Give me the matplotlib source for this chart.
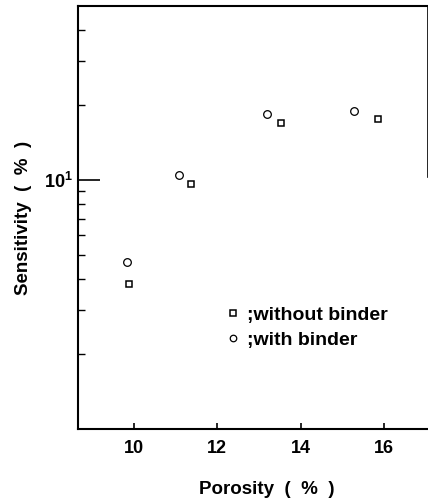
import numpy as np
import matplotlib
matplotlib.use('Agg')
import matplotlib.pyplot as plt
from matplotlib.ticker import FixedLocator, NullFormatter

plt.rcParams['font.family'] = ['Liberation Sans', 'DejaVu Sans']
plt.rcParams['font.weight'] = 'bold'
plt.rcParams['axes.labelweight'] = 'bold'
plt.rcParams['mathtext.fontset'] = 'custom'
plt.rcParams['mathtext.rm'] = 'Liberation Sans:bold'

# porosity (%) and sensitivity (%)
por_without = [9.88, 11.37, 13.52, 15.84]
sens_without = [3.82, 9.63, 16.9, 17.6]
por_with = [9.83, 11.08, 13.19, 15.27]
sens_with = [4.69, 10.47, 18.4, 18.9]

xticks = [10, 12, 14, 16]

fig = plt.figure(figsize=(4.28, 5.04), dpi=100)
ax = fig.add_axes([0.182, 0.149, 0.818, 0.839])

ax.plot(por_without, sens_without, 's', ms=5, mfc='white', mec='black', mew=1.1,
        linestyle='none', label=';without binder')
ax.plot(por_with, sens_with, 'o', ms=5.5, mfc='white', mec='black', mew=0.9,
        linestyle='none', label=';with binder')

ax.set_yscale('log')
ax.set_xlim(8.66, 17.05)
ax.set_ylim(1, 50)

ax.set_xticks(xticks)
ax.set_xticklabels([str(t) for t in xticks], fontsize=13)
ax.tick_params(axis='x', direction='in', length=4, width=1.2, pad=8)

ax.yaxis.set_major_locator(FixedLocator([10]))
ax.set_yticklabels([r'$\mathregular{10^1}$'], fontsize=13)
ax.yaxis.set_minor_locator(FixedLocator([2, 3, 4, 5, 6, 7, 8, 9, 20, 30, 40]))
ax.yaxis.set_minor_formatter(NullFormatter())
ax.tick_params(axis='y', which='major', direction='in', length=16, width=1.2, pad=4)
ax.tick_params(axis='y', which='minor', direction='in', length=5, width=1.0)

for s in ['left', 'bottom', 'top']:
    ax.spines[s].set_linewidth(1.5)
ax.spines['right'].set_linewidth(1.2)
ax.spines['right'].set_bounds(10.3, 50)

ax.set_xlabel('Porosity  (  %  )', fontsize=13.5)
ax.xaxis.set_label_coords(0.54, -0.123)
ax.set_ylabel('Sensitivity  (  %  )', fontsize=13.5)
ax.yaxis.set_label_coords(-0.132, 0.5)

ax.legend(loc='upper left', bbox_to_anchor=(0.427, 0.29), frameon=False,
          fontsize=14, handlelength=0.6, handletextpad=0.4, labelspacing=0.38,
          borderpad=0, borderaxespad=0, markerscale=0.85)

fig.savefig('out.png', dpi=100)
